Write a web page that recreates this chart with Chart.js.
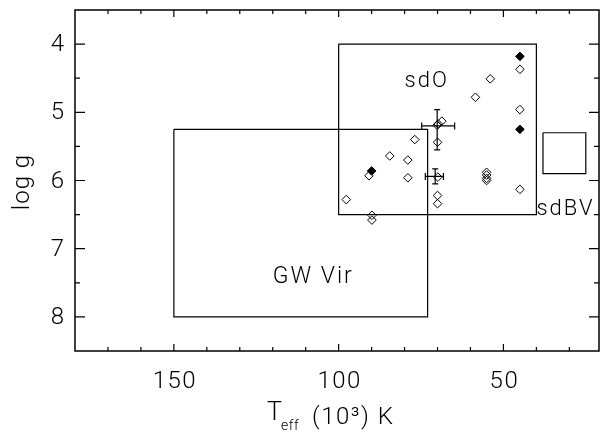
<!DOCTYPE html>
<html>
<head>
<meta charset="utf-8">
<script src="https://cdn.jsdelivr.net/npm/chart.js@4.4.1/dist/chart.umd.min.js"></script>
<style>
  html, body { margin: 0; padding: 0; background: #fff; }
  #wrap { width: 605px; height: 433px; }
</style>
</head>
<body>
<div id="wrap"><canvas id="chart" width="605" height="433"></canvas></div>
<script>
// open diamonds: Teff in 10^3 K, log g
const openTeff = [45, 54, 58.5, 45, 70.1, 68.7, 69.8, 70, 76.9, 84.5, 79, 79, 90.8, 69.9, 55.1, 55.1, 55.1, 55.1, 45, 70, 70, 97.7, 89.9, 89.9];
const openLogg = [4.37, 4.51, 4.78, 4.96, 5.19, 5.13, 5.17, 5.44, 5.40, 5.64, 5.70, 5.96, 5.93, 5.95, 5.88, 5.92, 5.97, 6.00, 6.13, 6.22, 6.34, 6.28, 6.51, 6.58];

// filled diamonds
const filledTeff = [45, 45, 90];
const filledLogg = [4.18, 5.25, 5.86];

// error bars
const errTeff = [70.1, 70.7];
const errLogg = [5.20, 5.94];
const errTeffHot = [74.8, 73.7];
const errTeffCool = [64.8, 68.2];
const errLoggLow = [4.96, 5.83];
const errLoggHigh = [5.55, 6.05];

// instability regions, corners as [Teff1, Teff2] and [logg1, logg2]
const gwVirTeff = [150, 73];
const gwVirLogg = [5.25, 8];
const sdoTeff = [100, 40];
const sdoLogg = [4, 6.5];
const sdbvTeff = [38, 25];
const sdbvLogg = [5.3, 5.9];

const regionNames = ['sdO', 'sdBV', 'GW Vir'];
const regionTeff = [80, 40, 120];
const regionLogg = [4.63, 6.51, 7.51];

const xTicks = [150, 100, 50];
const xMinorTicks = [170, 160, 140, 130, 120, 110, 90, 80, 70, 60, 40, 30];
const yTicks = [4, 5, 6, 7, 8];
const yMinorTicks = [4.5, 5.5, 6.5, 7.5];

const FONT = 'Roboto';

function boxPoints(tx, ly) {
  return [
    { x: tx[0], y: ly[0] }, { x: tx[1], y: ly[0] },
    { x: tx[1], y: ly[1] }, { x: tx[0], y: ly[1] },
    { x: tx[0], y: ly[0] }
  ];
}

function boxDataset(tx, ly) {
  return {
    type: 'line',
    data: boxPoints(tx, ly),
    borderColor: '#000',
    borderWidth: 1.2,
    pointRadius: 0,
    fill: false,
    tension: 0
  };
}

function text(ctx, str, x, y, size, spacing) {
  ctx.font = '300 ' + size + 'px ' + FONT;
  ctx.letterSpacing = spacing + 'px';
  ctx.fillText(str, x, y);
}

const framePlugin = {
  id: 'frame',
  afterDraw(chart) {
    const { ctx, chartArea: a, scales } = chart;
    const xs = scales.x, ys = scales.y;
    ctx.save();
    ctx.strokeStyle = '#000';

    // error bars
    ctx.lineWidth = 1.2;
    for (let i = 0; i < errTeff.length; i++) {
      const cx = xs.getPixelForValue(errTeff[i]);
      const cy = ys.getPixelForValue(errLogg[i]);
      const x1 = xs.getPixelForValue(errTeffHot[i]);
      const x2 = xs.getPixelForValue(errTeffCool[i]);
      const y1 = ys.getPixelForValue(errLoggLow[i]);
      const y2 = ys.getPixelForValue(errLoggHigh[i]);
      ctx.beginPath();
      ctx.moveTo(x1, cy); ctx.lineTo(x2, cy);
      ctx.moveTo(x1, cy - 3.5); ctx.lineTo(x1, cy + 3.5);
      ctx.moveTo(x2, cy - 3.5); ctx.lineTo(x2, cy + 3.5);
      ctx.moveTo(cx, y1); ctx.lineTo(cx, y2);
      ctx.moveTo(cx - 3, y1); ctx.lineTo(cx + 3, y1);
      ctx.moveTo(cx - 3, y2); ctx.lineTo(cx + 3, y2);
      ctx.stroke();
    }

    // frame
    ctx.lineWidth = 1.5;
    ctx.strokeRect(a.left, a.top, a.right - a.left, a.bottom - a.top);

    // inward ticks on all four sides
    ctx.lineWidth = 1.2;
    ctx.beginPath();
    const xt = (vals, len) => vals.forEach(v => {
      const px = xs.getPixelForValue(v);
      ctx.moveTo(px, a.bottom); ctx.lineTo(px, a.bottom - len);
      ctx.moveTo(px, a.top); ctx.lineTo(px, a.top + len);
    });
    const yt = (vals, len) => vals.forEach(v => {
      const py = ys.getPixelForValue(v);
      ctx.moveTo(a.left, py); ctx.lineTo(a.left + len, py);
      ctx.moveTo(a.right, py); ctx.lineTo(a.right - len, py);
    });
    xt(xTicks, 7); xt(xMinorTicks, 4);
    yt(yTicks, 10); yt(yMinorTicks, 5);
    ctx.stroke();

    ctx.fillStyle = '#000';

    // tick labels
    ctx.textAlign = 'center';
    ctx.textBaseline = 'alphabetic';
    xTicks.forEach(v => text(ctx, String(v), xs.getPixelForValue(v) + 1, 388, 24, 1.5));
    ctx.textAlign = 'right';
    ctx.textBaseline = 'middle';
    yTicks.forEach(v => text(ctx, String(v), 64, ys.getPixelForValue(v) + 1, 24, 0));

    // region names
    ctx.textBaseline = 'alphabetic';
    ctx.textAlign = 'left';
    const sizes = [22, 22, 23];
    const spacing = [2, 2, 2];
    regionNames.forEach((name, i) => {
      text(ctx, name, xs.getPixelForValue(regionTeff[i]), ys.getPixelForValue(regionLogg[i]), sizes[i], spacing[i]);
    });

    // y title
    ctx.save();
    ctx.translate(29, 182);
    ctx.rotate(-Math.PI / 2);
    ctx.textAlign = 'center';
    text(ctx, 'log g', 0, 0, 24, 1);
    ctx.restore();

    // x title with subscript
    ctx.textAlign = 'left';
    text(ctx, 'T', 267, 420, 25, 0);
    text(ctx, 'eff', 281, 430, 14, 0.5);
    text(ctx, '(10\u00B3) K', 312, 424, 24, 1.5);
    ctx.restore();
  }
};

new Chart(document.getElementById('chart'), {
  type: 'scatter',
  data: {
    datasets: [
      {
        data: filledTeff.map((t, i) => ({ x: t, y: filledLogg[i] })),
        pointStyle: 'rectRot',
        pointRadius: 4.3,
        backgroundColor: '#000',
        borderColor: '#000',
        borderWidth: 1
      },
      {
        data: openTeff.map((t, i) => ({ x: t, y: openLogg[i] })),
        pointStyle: 'rectRot',
        pointRadius: 4.3,
        backgroundColor: 'rgba(0,0,0,0)',
        borderColor: '#000',
        borderWidth: 1
      },
      boxDataset(gwVirTeff, gwVirLogg),
      boxDataset(sdoTeff, sdoLogg),
      boxDataset(sdbvTeff, sdbvLogg)
    ]
  },
  options: {
    responsive: false,
    animation: false,
    devicePixelRatio: 1,
    layout: { padding: { top: 10, right: 6, left: 0, bottom: 0 } },
    plugins: { legend: { display: false }, tooltip: { enabled: false } },
    scales: {
      x: {
        type: 'linear',
        reverse: true,
        min: 21,
        max: 180,
        grid: { display: false },
        border: { display: false },
        afterBuildTicks: s => { s.ticks = xTicks.map(v => ({ value: v })); },
        afterFit: s => { s.height = 82; },
        ticks: { display: false }
      },
      y: {
        type: 'linear',
        reverse: true,
        min: 3.5,
        max: 8.5,
        grid: { display: false },
        border: { display: false },
        afterBuildTicks: s => { s.ticks = yTicks.map(v => ({ value: v })); },
        afterFit: s => { s.width = 75; },
        ticks: { display: false }
      }
    }
  },
  plugins: [framePlugin]
});
</script>
</body>
</html>
